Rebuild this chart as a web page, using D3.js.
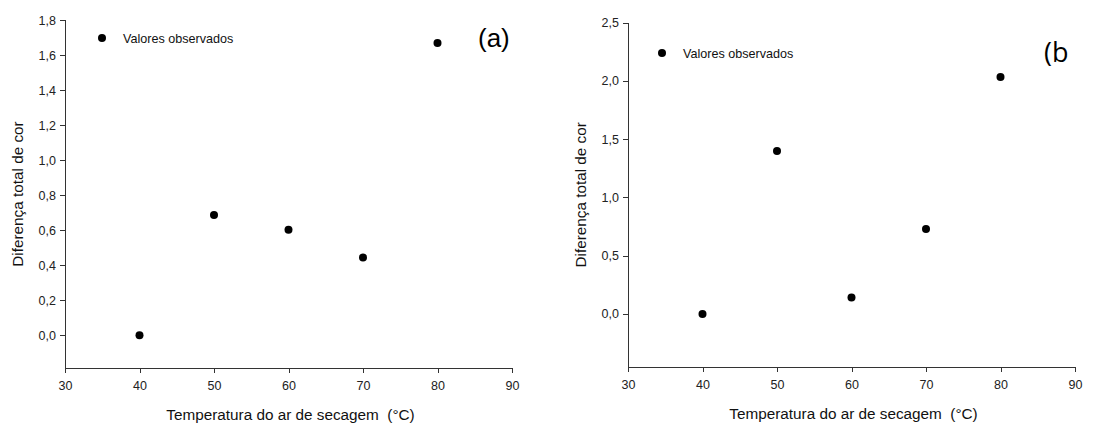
<!DOCTYPE html>
<html>
  <head>
    <meta charset="utf-8">
    <title>Diferença total de cor</title>
    <script src="https://d3js.org/d3.v7.min.js"></script>
    <style>
      body { margin: 0; background: #fff; }
      .axis path, .axis line { stroke: #333; shape-rendering: crispEdges; }
      .axis text { font-family: "Liberation Sans", Arial, sans-serif; font-size: 12.5px; fill: #222; }
      .lbl { font-family: "Liberation Sans", Arial, sans-serif; font-size: 15.3px; fill: #111; white-space: pre; }
      .leg { font-family: "Liberation Sans", Arial, sans-serif; font-size: 12.6px; fill: #111; }
    </style>
  </head>
  <body>
    <svg width="1117" height="423"></svg>
    <script>
      // temperatures (°C)
      const temps = [40, 50, 60, 70, 80];
      // observed total colour difference, panel (a) and (b)
      const valuesA = [0.0, 0.687, 0.602, 0.444, 1.669];
      const valuesB = [0.0, 1.398, 0.141, 0.730, 2.033];

      const xTicks = [30, 40, 50, 60, 70, 80, 90];
      const yTicksA = [0, 0.2, 0.4, 0.6, 0.8, 1.0, 1.2, 1.4, 1.6, 1.8];
      const yTicksB = [0, 0.5, 1.0, 1.5, 2.0, 2.5];

      const legendText = "Valores observados";
      const yLabel = "Diferença total de cor";
      const xLabel = "Temperatura do ar de secagem  (°C)";

      const svg = d3.select("svg");
      const fmt = v => d3.format(".1f")(v).replace(".", ",");

      // one panel
      function panel(opts) {
        const x = d3.scaleLinear().domain([30, 90]).range([opts.left, opts.right]);
        const y = d3.scaleLinear().domain(opts.yDomain).range([opts.bottom, opts.top]);
        const g = svg.append("g");

        g.append("g")
          .attr("class", "axis")
          .attr("transform", `translate(0,${opts.bottom})`)
          .call(d3.axisBottom(x).tickValues(xTicks).tickSizeInner(5).tickSizeOuter(0).tickPadding(6))
          .call(s => s.selectAll("text").attr("dy", "0.9em"));

        // y axis line runs from the top tick down to the x axis
        g.append("line")
          .attr("x1", opts.left).attr("x2", opts.left)
          .attr("y1", y(opts.yDomain[1])).attr("y2", opts.bottom)
          .attr("stroke", "#333")
          .style("shape-rendering", "crispEdges");

        const ya = g.append("g")
          .attr("class", "axis")
          .attr("transform", `translate(${opts.left},0)`)
          .call(d3.axisLeft(y).tickValues(opts.yTicks).tickFormat(fmt).tickSizeInner(5).tickSizeOuter(0).tickPadding(4));
        ya.select(".domain").remove();

        g.selectAll(".dot")
          .data(temps)
          .enter().append("circle")
          .attr("class", "dot")
          .attr("cx", d => x(d))
          .attr("cy", (d, i) => y(opts.values[i]))
          .attr("r", 4)
          .attr("fill", "#000");

        // legend
        g.append("circle")
          .attr("cx", opts.legX).attr("cy", opts.legY).attr("r", 4).attr("fill", "#000");
        g.append("text")
          .attr("class", "leg")
          .attr("x", opts.legX + 21).attr("y", opts.legY + 4.5)
          .text(legendText);

        // panel tag
        g.append("text")
          .attr("x", opts.tagX).attr("y", opts.tagY)
          .style("font-family", opts.tagFont)
          .style("font-size", opts.tagSize)
          .attr("fill", "#000")
          .text(opts.tag);

        // axis titles
        g.append("text")
          .attr("class", "lbl")
          .attr("text-anchor", "middle")
          .attr("transform", `translate(${opts.yLabX},${(opts.top + opts.bottom) / 2}) rotate(-90)`)
          .text(yLabel);

        g.append("text")
          .attr("class", "lbl")
          .attr("text-anchor", "middle")
          .attr("x", (opts.left + opts.right) / 2 + 2)
          .attr("y", opts.bottom + 52)
          .text(xLabel);
      }

      panel({
        left: 65, right: 512, top: 20, bottom: 368,
        yDomain: [-0.187, 1.8], yTicks: yTicksA, values: valuesA,
        legX: 102, legY: 38, tag: "(a)", tagX: 478, tagY: 47, tagSize: "26px",
        tagFont: "'Liberation Sans', Arial, sans-serif", yLabX: 23
      });

      panel({
        left: 628, right: 1075, top: 22.7, bottom: 367,
        yDomain: [-0.455, 2.5], yTicks: yTicksB, values: valuesB,
        legX: 662, legY: 53, tag: "(b", tagX: 1044, tagY: 62, tagSize: "27px",
        tagFont: "'Open Sans', sans-serif", yLabX: 586
      });
    </script>
  </body>
</html>
